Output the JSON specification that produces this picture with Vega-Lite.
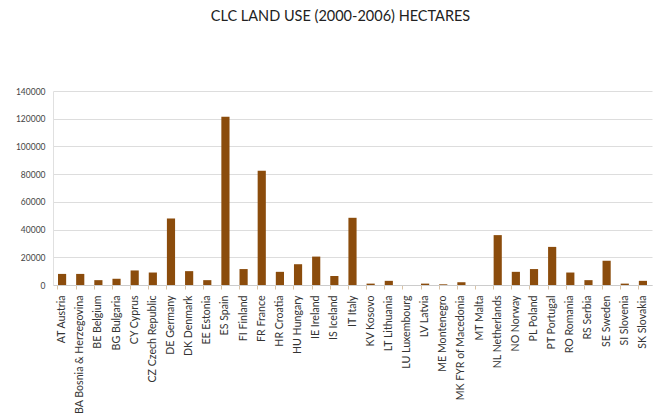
{
  "$schema": "https://vega.github.io/schema/vega-lite/v6.json",
  "autosize": {"type": "none"},
  "width": 599,
  "height": 194,
  "padding": {"left": 53, "top": 91, "right": 6, "bottom": 130},
  "background": "white",
  "title": {
    "text": "CLC LAND USE (2000-2006) HECTARES",
    "font": "Lato",
    "fontSize": 14.5,
    "fontWeight": "normal",
    "color": "#222222",
    "anchor": "middle",
    "frame": "group",
    "dx": -12,
    "offset": 63
  },
  "data": {
    "values": [
      {"country": "AT Austria", "hectares": 8000},
      {"country": "BA Bosnia & Herzegovina", "hectares": 8000},
      {"country": "BE Belgium", "hectares": 3500},
      {"country": "BG Bulgaria", "hectares": 4500},
      {"country": "CY Cyprus", "hectares": 10500},
      {"country": "CZ Czech Republic", "hectares": 9000},
      {"country": "DE Germany", "hectares": 48000},
      {"country": "DK Denmark", "hectares": 10000},
      {"country": "EE Estonia", "hectares": 3500},
      {"country": "ES Spain", "hectares": 121500},
      {"country": "FI Finland", "hectares": 11500},
      {"country": "FR France", "hectares": 82500},
      {"country": "HR Croatia", "hectares": 9500},
      {"country": "HU Hungary", "hectares": 15000},
      {"country": "IE Ireland", "hectares": 20500},
      {"country": "IS Iceland", "hectares": 6500},
      {"country": "IT Italy", "hectares": 48500},
      {"country": "KV Kosovo", "hectares": 1000},
      {"country": "LT Lithuania", "hectares": 3000},
      {"country": "LU Luxembourg", "hectares": 0},
      {"country": "LV Latvia", "hectares": 1000},
      {"country": "ME Montenegro", "hectares": 500},
      {"country": "MK FYR of Macedonia", "hectares": 2000},
      {"country": "MT Malta", "hectares": 0},
      {"country": "NL Netherlands", "hectares": 36000},
      {"country": "NO Norway", "hectares": 9500},
      {"country": "PL Poland", "hectares": 11500},
      {"country": "PT Portugal", "hectares": 27500},
      {"country": "RO Romania", "hectares": 9000},
      {"country": "RS Serbia", "hectares": 3500},
      {"country": "SE Sweden", "hectares": 17500},
      {"country": "SI Slovenia", "hectares": 1000},
      {"country": "SK Slovakia", "hectares": 3000}
    ]
  },
  "mark": {"type": "bar", "color": "#8B4C0C"},
  "encoding": {
    "x": {
      "field": "country",
      "type": "nominal",
      "sort": null,
      "title": null,
      "scale": {"paddingInner": 0.55, "paddingOuter": 0.275},
      "axis": {
        "labelAngle": 270,
        "labelAlign": "right",
        "labelBaseline": "middle",
        "labelFont": "Lato",
        "labelFontSize": 10.6,
        "labelColor": "#333333",
        "labelPadding": 6,
        "labelOverlap": false,
        "labelLimit": 200,
        "bandPosition": 0,
        "tickColor": "#d9c3a5",
        "tickSize": 4,
        "domainColor": "#cccccc",
        "grid": false
      }
    },
    "y": {
      "field": "hectares",
      "type": "quantitative",
      "title": null,
      "scale": {"domain": [0, 140000], "nice": false},
      "axis": {
        "values": [0, 20000, 40000, 60000, 80000, 100000, 120000, 140000],
        "format": "d",
        "labelFont": "Lato",
        "labelFontSize": 8.5,
        "labelColor": "#444444",
        "labelPadding": 8,
        "tickSize": 0,
        "domain": true,
        "domainColor": "#e0e0e0",
        "gridColor": "#dddddd"
      }
    }
  },
  "config": {"view": {"stroke": null}}
}
